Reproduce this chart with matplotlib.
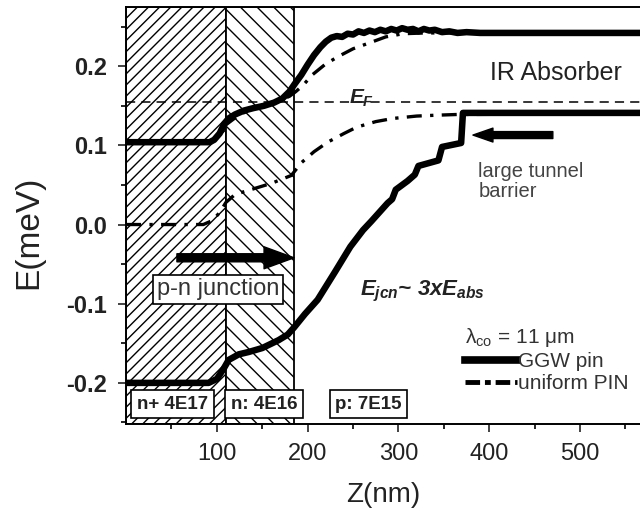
import numpy as np
import matplotlib.pyplot as plt
from matplotlib.lines import Line2D
from matplotlib.ticker import MultipleLocator, FixedLocator

plt.rcParams['font.family'] = ['Liberation Sans', 'DejaVu Sans']
plt.rcParams['axes.unicode_minus'] = False
plt.rcParams['hatch.linewidth'] = 1.0
plt.rcParams['mathtext.fontset'] = 'custom'
plt.rcParams['mathtext.rm'] = 'Liberation Sans'
plt.rcParams['mathtext.it'] = 'Liberation Sans:italic:bold'
plt.rcParams['mathtext.bf'] = 'Liberation Sans:bold'

# doped layers (nm)
layer_edges = [0, 110, 185]
layer_labels = ['n+ 4E17', 'n: 4E16', 'p: 7E15']
layer_label_z = [51, 152, 267]

fermi_level = 0.155

# GGW pin, upper band (thick)
z_ggw_up = [0, 92, 97, 103, 108, 113, 120, 130, 140, 152, 163, 172, 180, 186, 193,
            200, 207, 214, 220, 226, 232, 238, 244, 250, 256, 262, 268, 274, 280,
            286, 292, 298, 304, 310, 316, 322, 328, 334, 340, 348, 356, 365, 375,
            390, 420, 566]
e_ggw_up = [0.104, 0.104, 0.107, 0.115, 0.127, 0.134, 0.139, 0.144, 0.147, 0.150,
            0.154, 0.159, 0.168, 0.178, 0.189, 0.202, 0.214, 0.224, 0.231, 0.236,
            0.238, 0.237, 0.241, 0.240, 0.244, 0.242, 0.245, 0.243, 0.246, 0.244,
            0.247, 0.245, 0.248, 0.246, 0.247, 0.244, 0.247, 0.245, 0.246, 0.243,
            0.244, 0.242, 0.243, 0.242, 0.242, 0.242]

# GGW pin, lower band (thick, with steps near the barrier)
z_ggw_low = [0, 91, 100, 107, 113, 124, 135, 150, 168, 178, 185, 197, 211, 230, 247,
             261, 270, 288, 293, 297, 310, 318, 322, 344, 348, 369, 371, 566]
e_ggw_low = [-0.2, -0.2, -0.195, -0.183, -0.171, -0.164, -0.161, -0.156, -0.146,
             -0.139, -0.13, -0.113, -0.095, -0.06, -0.028, -0.007, 0.004, 0.027,
             0.032, 0.044, 0.055, 0.063, 0.074, 0.081, 0.098, 0.103, 0.141, 0.141]

# uniform PIN (dash-dot)
z_pin_up = [0, 92, 100, 110, 125, 140, 155, 170, 180, 187, 195, 205, 220, 235, 250,
            267, 286, 305, 330, 566]
e_pin_up = [0.104, 0.104, 0.111, 0.126, 0.139, 0.146, 0.151, 0.157, 0.162, 0.168,
            0.176, 0.189, 0.203, 0.213, 0.222, 0.229, 0.237, 0.241, 0.242, 0.242]

z_pin_low = [0, 85, 95, 103, 110, 120, 140, 160, 182, 193, 207, 222, 240, 254, 275,
             294, 320, 340, 365, 566]
e_pin_low = [0.0, 0.0, 0.005, 0.015, 0.028, 0.038, 0.045, 0.052, 0.062, 0.078, 0.092,
             0.104, 0.115, 0.123, 0.130, 0.134, 0.137, 0.138, 0.139, 0.140]

fig = plt.figure(figsize=(6.4, 5.14), dpi=100)
ax = fig.add_axes([0.197, 0.175, 0.803, 0.811])

ax.axvspan(layer_edges[0], layer_edges[1], facecolor='white', edgecolor='black',
           hatch='///', lw=1.3, zorder=0)
ax.axvspan(layer_edges[1], layer_edges[2], facecolor='white', edgecolor='black',
           hatch='\\\\', lw=1.3, zorder=0)

ax.axhline(fermi_level, color='black', lw=1.1, ls=(0, (6, 4)), zorder=2)

dashdot = (0, (4.5, 2.5, 1, 2.5))
ax.plot(z_pin_up, e_pin_up, color='black', lw=2.4, ls=dashdot, zorder=3)
ax.plot(z_pin_low, e_pin_low, color='black', lw=2.4, ls=dashdot, zorder=3)
ax.plot(z_ggw_up, e_ggw_up, color='black', lw=4.7, zorder=4)
ax.plot(z_ggw_low, e_ggw_low, color='black', lw=4.7, zorder=4)

ax.set_xlim(0, 566)
ax.set_ylim(-0.252, 0.2745)

ax.xaxis.set_major_locator(FixedLocator([100, 200, 300, 400, 500]))
ax.xaxis.set_minor_locator(FixedLocator([50, 150, 250, 350, 450, 550]))
ax.yaxis.set_major_locator(MultipleLocator(0.1))
ax.yaxis.set_minor_locator(MultipleLocator(0.05))
ax.yaxis.set_major_formatter(plt.FuncFormatter(lambda v, p: f'{v:.1f}'))
ax.tick_params(which='major', direction='out', length=6, width=1.2, labelsize=17,
               pad=8, colors='#222222')
ax.tick_params(which='minor', direction='out', length=3.5, width=1.2)
for lab in ax.get_yticklabels():
    lab.set_fontweight('bold')
for s in ['left', 'bottom', 'top']:
    ax.spines[s].set_linewidth(1.4)
ax.spines['right'].set_visible(False)

ax.set_xlabel('Z(nm)', fontsize=20, color='#222222')
ax.set_ylabel('E(meV)', fontsize=24, color='#222222')
ax.xaxis.set_label_coords(0.5, -0.14)
ax.yaxis.set_label_coords(-0.16, 0.46)

# annotations
ax.text(473, 0.192, 'IR Absorber', fontsize=18, ha='center', va='center', color='#222222')
ax.text(245, 0.153, r'$E_F$', fontsize=15, ha='left', va='baseline', color='#222222')
ax.text(388, 0.079, 'large tunnel\nbarrier', fontsize=14.5, ha='left', va='top',
        color='#444444', linespacing=1.1)
ax.text(101, -0.082, 'p-n junction', fontsize=17, ha='center', va='center',
        color='#333333',
        bbox=dict(boxstyle='square,pad=0.15', fc='white', ec='black', lw=1.2))
ax.text(258, -0.089, r'$E_{jcn}$~ 3x$E_{abs}$', fontsize=16, ha='left',
        va='baseline', color='#222222', fontstyle='italic', fontweight='bold')

ax.annotate('', xy=(185, -0.042), xytext=(56, -0.042),
            arrowprops=dict(arrowstyle='simple,head_length=1.08,head_width=0.79,tail_width=0.29',
                            mutation_scale=20, color='black', shrinkA=0, shrinkB=0),
            zorder=5)
ax.annotate('', xy=(382, 0.113), xytext=(470, 0.113),
            arrowprops=dict(arrowstyle='simple,head_length=0.72,head_width=0.5,tail_width=0.25',
                            mutation_scale=20, color='black', shrinkA=0, shrinkB=0),
            zorder=5)

for z, lab in zip(layer_label_z, layer_labels):
    ax.text(z, -0.227, lab, fontsize=13.5, fontweight='bold', ha='center', va='center',
            color='#222222', zorder=6,
            bbox=dict(boxstyle='square,pad=0.3', fc='white', ec='black', lw=1.2))

handles = [Line2D([], [], color='black', lw=5.5),
           Line2D([], [], color='black', lw=3.5, ls=(0, (3, 1, 1.2, 1)))]
leg = ax.legend(handles, ['GGW pin', 'uniform PIN'],
                title=r'$\mathrm{\lambda_{co}}$ = 11 μm', loc='upper left',
                bbox_to_anchor=(0.66, 0.235), frameon=False, fontsize=15,
                title_fontsize=15, handlelength=2.5, handletextpad=0.05,
                labelspacing=0.15, borderpad=0, borderaxespad=0, alignment='left')
for t in leg.get_texts():
    t.set_color('#333333')
leg.get_title().set_color('#333333')

fig.savefig('out.png', dpi=100)
